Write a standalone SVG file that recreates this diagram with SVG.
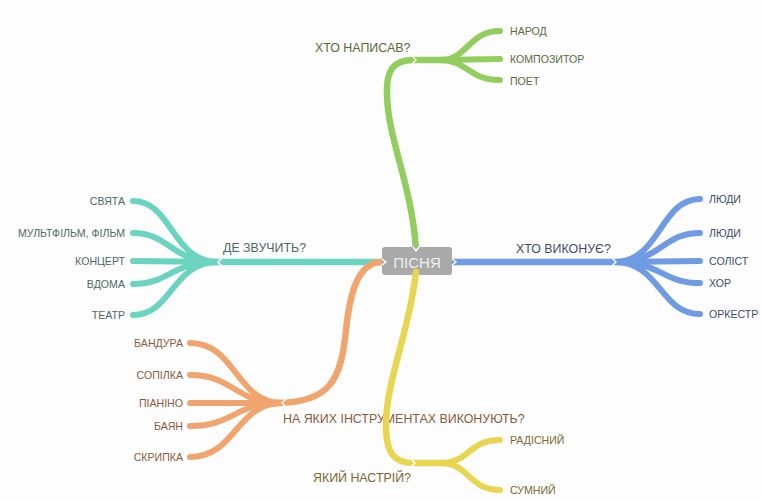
<svg xmlns="http://www.w3.org/2000/svg" width="762" height="501" viewBox="0 0 762 501">
<style>
text{font-family:"Liberation Sans",Arial,sans-serif}
.leaf{font-size:10.6px}
.title{font-size:12.4px}
.l{fill:none;stroke-linecap:round}
.m{stroke-width:6.5}
.s{stroke-width:6}
.g{stroke:#94cd5f}.gt{fill:#5b6a3e}
.t{stroke:#6bd4c0}.tt{fill:#4d6966}
.b{stroke:#6f9ae4}.bt{fill:#3f4d6a}
.o{stroke:#f0a56f}.ot{fill:#8a5a3e}
.y{stroke:#e8d650}.yt{fill:#7a6a32}
.notch{fill:none;stroke:#ffffff;stroke-width:1.4;stroke-linejoin:miter}
</style>
<rect width="762" height="501" fill="#fdfdfd"/>
<g id="connectors">
  <!-- green -->
  <path class="l m g" d="M416,250 C412,185 388,140 387,95 C386,70 393,60 414,60 L445,60"/>
  <path class="l s g" d="M440,60 C468,60 468,31 500,31"/>
  <path class="l s g" d="M440,60 L500,59"/>
  <path class="l s g" d="M440,60 C468,60 468,80 500,80"/>
  <!-- blue -->
  <path class="l m b" d="M450,262 L620,262"/>
  <path class="l s b" d="M615,262 C660,262 660,199 700,199"/>
  <path class="l s b" d="M615,262 C662,262 662,233 700,233"/>
  <path class="l s b" d="M615,262 L700,261"/>
  <path class="l s b" d="M615,262 C662,262 662,283 700,283"/>
  <path class="l s b" d="M615,262 C660,262 660,314 700,314"/>
  <!-- teal -->
  <path class="l m t" d="M384,262 L212,262"/>
  <path class="l s t" d="M218,262 C172,262 172,201 133,201"/>
  <path class="l s t" d="M218,262 C170,262 170,233 133,233"/>
  <path class="l s t" d="M218,262 L133,261"/>
  <path class="l s t" d="M218,262 C170,262 170,284 133,284"/>
  <path class="l s t" d="M218,262 C172,262 172,315 133,315"/>
  <!-- orange -->
  <path class="l m o" d="M380,262 C358,264 350,292 346,330 C341,380 330,403 276,403"/>
  <path class="l s o" d="M282,403 C236,403 236,343 190,343"/>
  <path class="l s o" d="M282,403 C234,403 234,375 190,375"/>
  <path class="l s o" d="M282,403 L190,403"/>
  <path class="l s o" d="M282,403 C234,403 234,426 190,426"/>
  <path class="l s o" d="M282,403 C236,403 236,457 190,457"/>
</g>
<g id="n-pisnia">
  <rect x="382" y="247" width="70" height="28" rx="3" fill="#a9a9a9"/>
  <text x="417" y="267.5" text-anchor="middle" font-size="15" fill="#f0f0f0">ПІСНЯ</text>
  <polyline class="notch" points="413,247 416,251 419,247"/>
  <polyline class="notch" points="413,275 416,271 419,275"/>
  <polyline class="notch" points="382,259 386,262 382,265"/>
  <polyline class="notch" points="452,259 456,262 452,265"/>
</g>
<g id="n-napysav">
  <text class="title gt" x="315" y="51.5">ХТО НАПИСАВ?</text>
  <polyline class="notch" points="412,56 416,60 412,64"/>
</g>
<g id="n-narod"><text class="leaf gt" x="510" y="34.5">НАРОД</text></g>
<g id="n-kompozytor"><text class="leaf gt" x="510" y="62.5">КОМПОЗИТОР</text></g>
<g id="n-poet"><text class="leaf gt" x="510" y="84.5">ПОЕТ</text></g>
<g id="n-vykonuie">
  <text class="title bt" x="516" y="252.5">ХТО ВИКОНУЄ?</text>
  <polyline class="notch" points="612,258 616,262 612,266"/>
</g>
<g id="n-liudy1"><text class="leaf bt" x="709" y="202.5">ЛЮДИ</text></g>
<g id="n-liudy2"><text class="leaf bt" x="709" y="236.5">ЛЮДИ</text></g>
<g id="n-solist"><text class="leaf bt" x="709" y="264.5">СОЛІСТ</text></g>
<g id="n-khor"><text class="leaf bt" x="709" y="286.5">ХОР</text></g>
<g id="n-orkestr"><text class="leaf bt" x="709" y="317.5">ОРКЕСТР</text></g>
<g id="n-zvuchyt">
  <text class="title tt" x="223" y="251.5">ДЕ ЗВУЧИТЬ?</text>
  <polyline class="notch" points="222,258 218,262 222,266"/>
</g>
<g id="n-sviata"><text class="leaf tt" x="125" y="204.5" text-anchor="end">СВЯТА</text></g>
<g id="n-multfilm"><text class="leaf tt" x="125" y="236.5" text-anchor="end">МУЛЬТФІЛЬМ, ФІЛЬМ</text></g>
<g id="n-kontsert"><text class="leaf tt" x="125" y="264.5" text-anchor="end">КОНЦЕРТ</text></g>
<g id="n-vdoma"><text class="leaf tt" x="125" y="287.5" text-anchor="end">ВДОМА</text></g>
<g id="n-teatr"><text class="leaf tt" x="125" y="318.5" text-anchor="end">ТЕАТР</text></g>
<g id="n-instrumenty">
  <text class="title ot" x="283" y="422.5">НА ЯКИХ ІНСТРУМЕНТАХ ВИКОНУЮТЬ?</text>
  <polyline class="notch" points="286,399 282,403 286,407"/>
</g>
<g id="n-bandura"><text class="leaf ot" x="183" y="346.5" text-anchor="end">БАНДУРА</text></g>
<g id="n-sopilka"><text class="leaf ot" x="183" y="378.5" text-anchor="end">СОПІЛКА</text></g>
<g id="n-pianino"><text class="leaf ot" x="183" y="406.5" text-anchor="end">ПІАНІНО</text></g>
<g id="n-baian"><text class="leaf ot" x="183" y="429.5" text-anchor="end">БАЯН</text></g>
<g id="n-skrypka"><text class="leaf ot" x="183" y="460.5" text-anchor="end">СКРИПКА</text></g>
<g id="connectors-yellow">
  <path class="l m y" d="M416,272 C410,330 386,380 386,425 C386,455 395,463 414,463 L445,463"/>
  <path class="l s y" d="M440,463 C470,463 468,440 500,440"/>
  <path class="l s y" d="M440,463 C470,463 468,490 500,490"/>
</g>
<g id="n-nastrii">
  <text class="title yt" x="313" y="481.5">ЯКИЙ НАСТРІЙ?</text>
  <polyline class="notch" points="411,459 415,463 411,467"/>
</g>
<g id="n-radisnyi"><text class="leaf yt" x="510" y="443.5">РАДІСНИЙ</text></g>
<g id="n-sumnyi"><text class="leaf yt" x="510" y="493.5">СУМНИЙ</text></g>
</svg>
